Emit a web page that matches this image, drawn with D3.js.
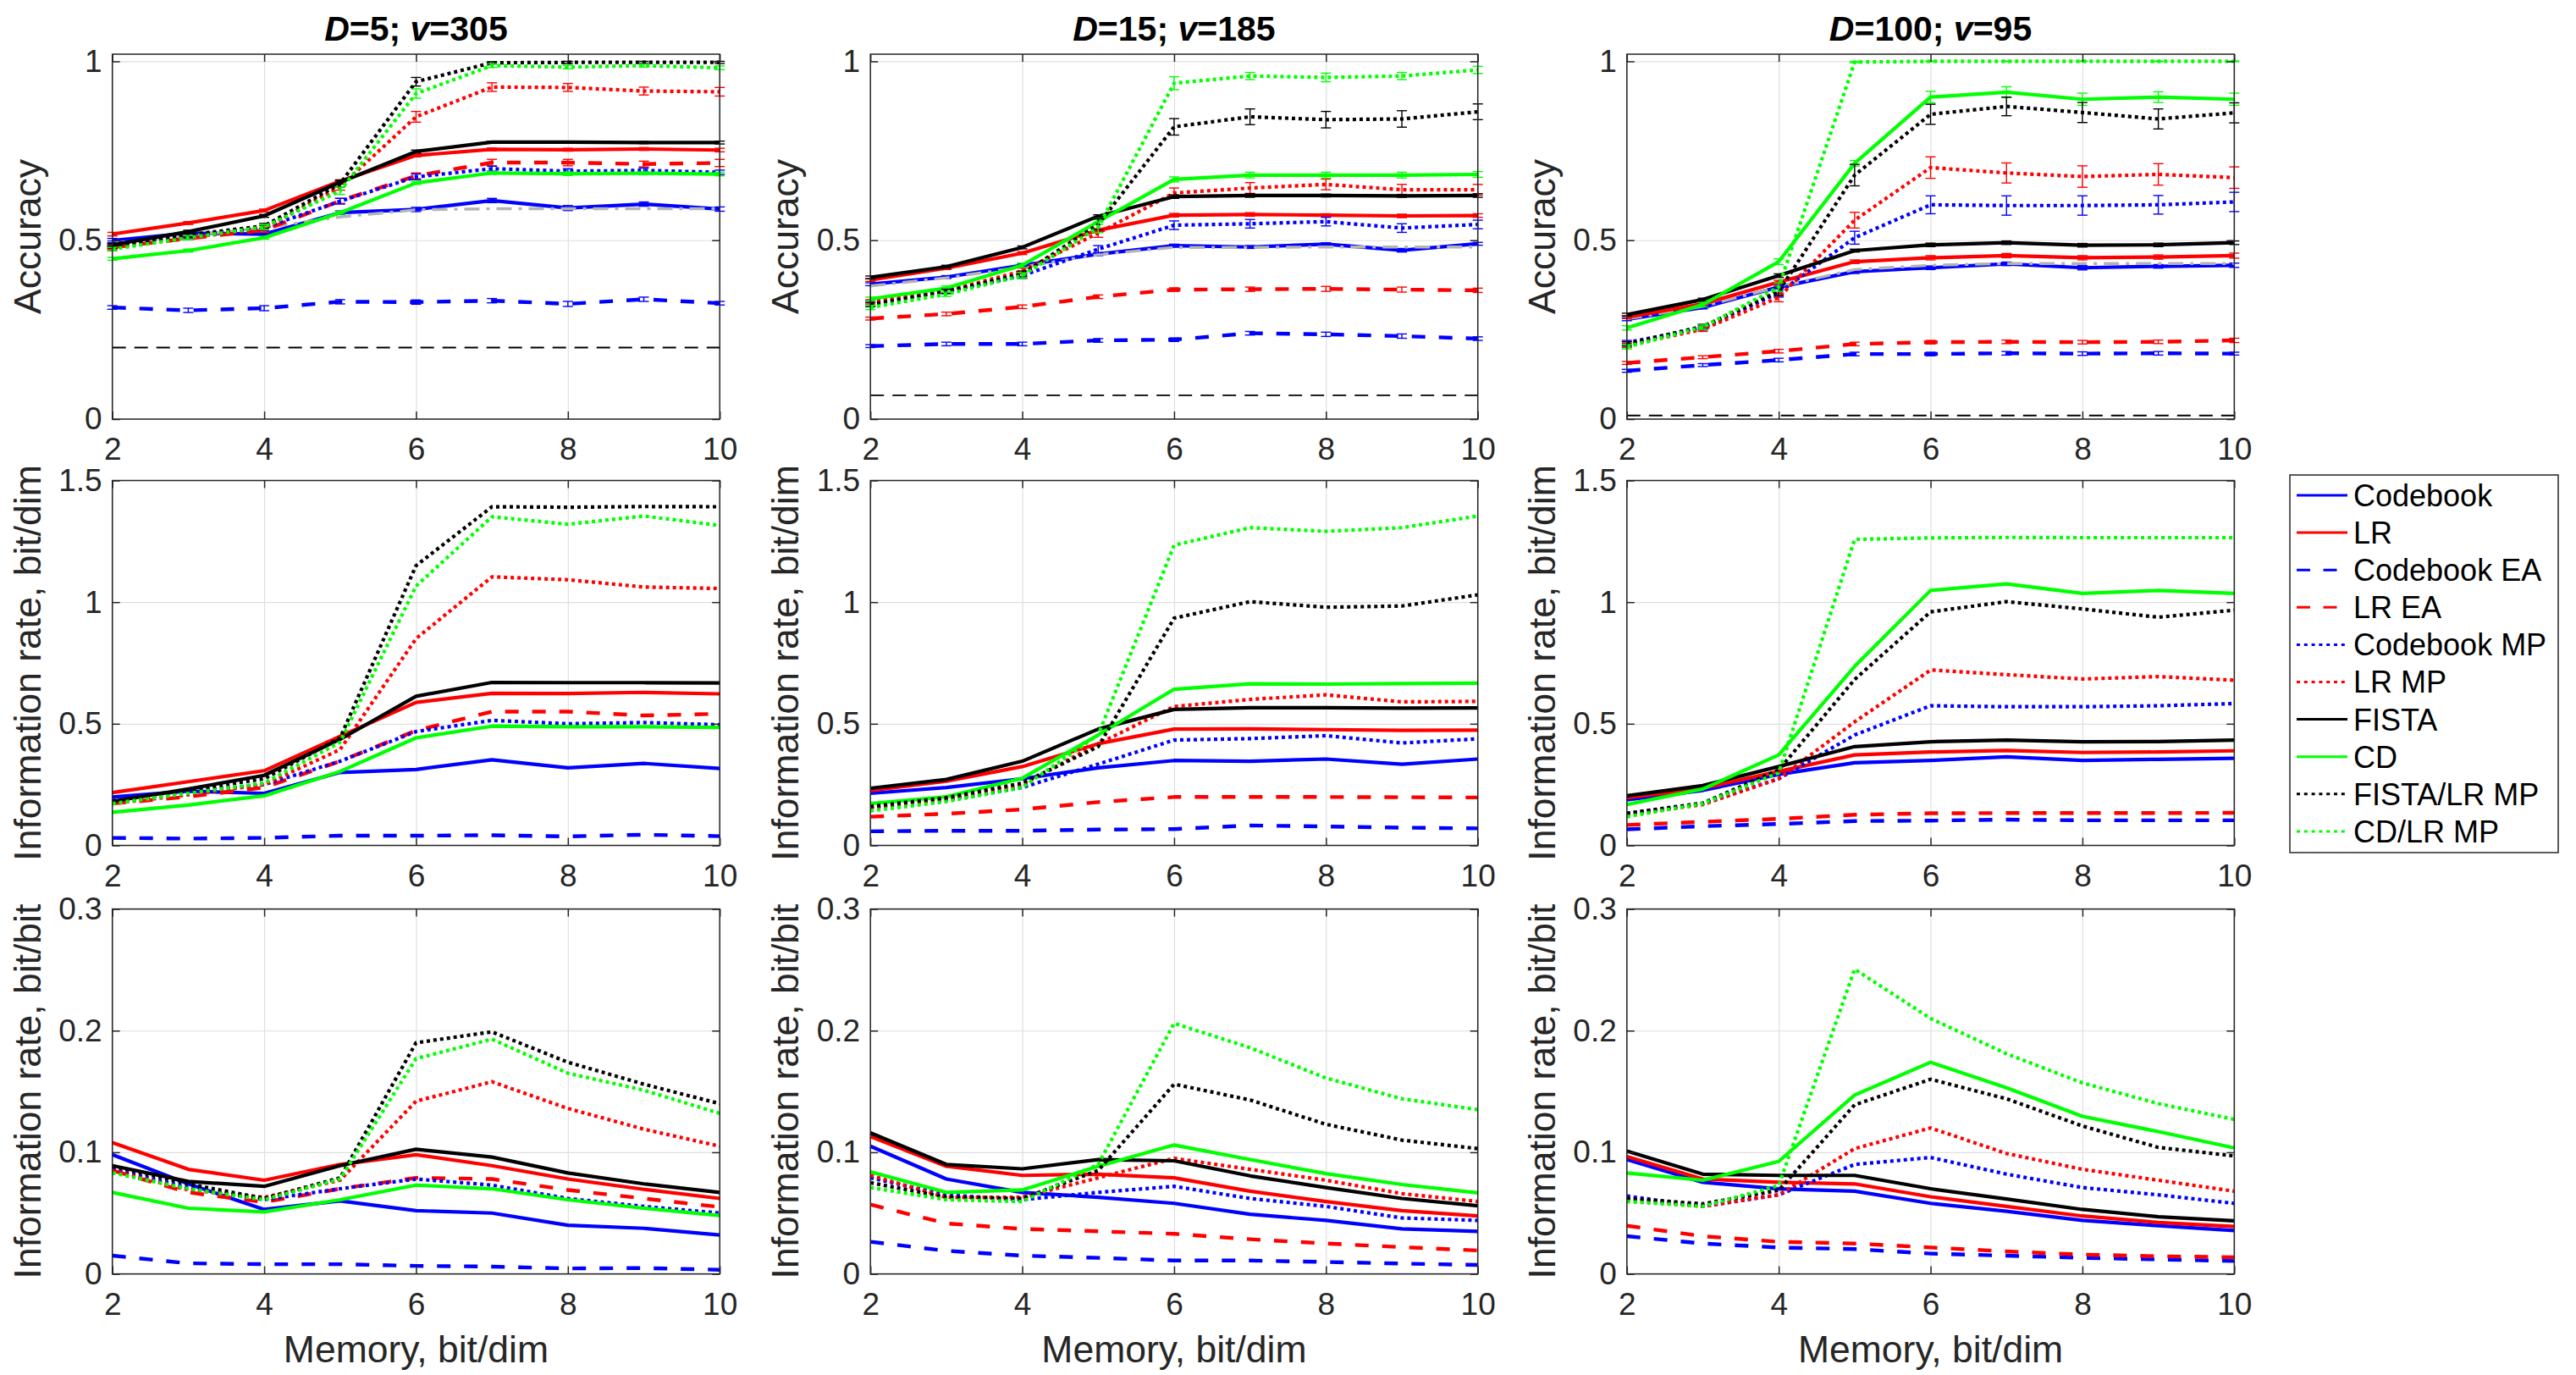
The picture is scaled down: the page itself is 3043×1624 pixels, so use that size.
<!DOCTYPE html>
<html>
<head>
<meta charset="utf-8">
<script src="https://cdn.jsdelivr.net/npm/d3@7"></script>
<style>
  body { margin: 0; background: #fff; }
  text { font-family: "Liberation Sans", Arial, Helvetica, sans-serif; }
</style>
</head>
<body>
<script>
// x values shared by every panel
const memory = [2, 3, 4, 5, 6, 7, 8, 9, 10];

const seriesNames = ["Codebook", "LR", "Codebook EA", "LR EA", "Codebook MP", "LR MP",
                     "FISTA", "CD", "FISTA/LR MP", "CD/LR MP"];
const seriesColors = ["#0000ff", "#ff0000", "#0000ff", "#ff0000", "#0000ff", "#ff0000",
                      "#000000", "#00ff00", "#000000", "#00ff00"];
const seriesStyle = ["solid", "solid", "dash", "dash", "dot", "dot",
                     "solid", "solid", "dot", "dot"];

const colTitles = [["D", "=5; ", "v", "=305"], ["D", "=15; ", "v", "=185"], ["D", "=100; ", "v", "=95"]];
const rowLabels = ["Accuracy", "Information rate, bit/dim", "Information rate, bit/bit"];
const rowMax = [1.02, 1.5, 0.3];
const rowTicks = [[0, 0.5, 1], [0, 0.5, 1, 1.5], [0, 0.1, 0.2, 0.3]];
const xTicks = [2, 4, 6, 8, 10];

// chance level (black dashed) and reference curve (grey dash-dot), accuracy row only
const chanceLevel = [0.2, 0.0667, 0.01];
const refD5 = [0.492, 0.512, 0.535, 0.565, 0.585, 0.588, 0.588, 0.588, 0.588];
const refD15 = [0.372, 0.395, 0.425, 0.460, 0.480, 0.480, 0.481, 0.481, 0.481];
const refD100 = [0.280, 0.315, 0.370, 0.418, 0.430, 0.435, 0.435, 0.435, 0.435];

// rows follow seriesNames order
const accD5 = [
  [0.499, 0.520, 0.517, 0.577, 0.586, 0.611, 0.590, 0.601, 0.587],
  [0.517, 0.548, 0.583, 0.665, 0.737, 0.754, 0.753, 0.755, 0.752],
  [0.312, 0.304, 0.310, 0.328, 0.327, 0.331, 0.322, 0.335, 0.324],
  [0.480, 0.505, 0.528, 0.610, 0.680, 0.717, 0.717, 0.713, 0.716],
  [0.490, 0.512, 0.535, 0.609, 0.677, 0.700, 0.693, 0.695, 0.690],
  [0.479, 0.507, 0.532, 0.650, 0.845, 0.928, 0.927, 0.917, 0.915],
  [0.487, 0.524, 0.568, 0.662, 0.748, 0.774, 0.774, 0.773, 0.773],
  [0.448, 0.471, 0.507, 0.577, 0.660, 0.688, 0.686, 0.687, 0.685],
  [0.483, 0.515, 0.540, 0.658, 0.943, 0.996, 0.997, 0.997, 0.997],
  [0.475, 0.507, 0.537, 0.638, 0.910, 0.988, 0.984, 0.988, 0.982]
];
const accD15 = [
  [0.377, 0.397, 0.430, 0.461, 0.485, 0.481, 0.489, 0.472, 0.490],
  [0.389, 0.422, 0.464, 0.528, 0.570, 0.572, 0.570, 0.568, 0.569],
  [0.204, 0.210, 0.210, 0.220, 0.222, 0.240, 0.237, 0.232, 0.225],
  [0.281, 0.294, 0.314, 0.342, 0.362, 0.363, 0.364, 0.362, 0.360],
  [0.324, 0.357, 0.401, 0.475, 0.542, 0.546, 0.552, 0.534, 0.544],
  [0.328, 0.358, 0.414, 0.520, 0.632, 0.646, 0.656, 0.641, 0.641],
  [0.396, 0.426, 0.480, 0.567, 0.622, 0.625, 0.625, 0.624, 0.625],
  [0.336, 0.366, 0.430, 0.552, 0.670, 0.682, 0.682, 0.682, 0.684],
  [0.320, 0.357, 0.406, 0.544, 0.817, 0.845, 0.837, 0.839, 0.859],
  [0.312, 0.349, 0.401, 0.536, 0.939, 0.959, 0.955, 0.959, 0.976]
];
const accD100 = [
  [0.279, 0.312, 0.369, 0.412, 0.423, 0.434, 0.423, 0.427, 0.430],
  [0.285, 0.322, 0.383, 0.440, 0.451, 0.457, 0.451, 0.453, 0.457],
  [0.135, 0.151, 0.165, 0.182, 0.182, 0.184, 0.183, 0.184, 0.183],
  [0.157, 0.173, 0.190, 0.210, 0.215, 0.216, 0.215, 0.216, 0.220],
  [0.214, 0.255, 0.353, 0.507, 0.599, 0.597, 0.597, 0.599, 0.607],
  [0.206, 0.251, 0.340, 0.556, 0.703, 0.688, 0.678, 0.684, 0.675],
  [0.292, 0.334, 0.401, 0.471, 0.487, 0.493, 0.486, 0.487, 0.493],
  [0.255, 0.320, 0.440, 0.715, 0.900, 0.914, 0.894, 0.900, 0.894],
  [0.210, 0.259, 0.357, 0.682, 0.852, 0.874, 0.857, 0.839, 0.856],
  [0.202, 0.257, 0.369, 0.998, 1.000, 1.000, 1.000, 1.000, 1.000]
];

// half-widths of the accuracy error bars
const errD5 = [
  [0.006, 0.004, 0.004, 0.005, 0.006, 0.006, 0.007, 0.006, 0.006],
  [0.005, 0.004, 0.004, 0.004, 0.004, 0.004, 0.004, 0.004, 0.005],
  [0.005, 0.006, 0.007, 0.006, 0.006, 0.006, 0.007, 0.006, 0.005],
  [0.004, 0.004, 0.006, 0.007, 0.008, 0.009, 0.009, 0.008, 0.010],
  [0.008, 0.006, 0.008, 0.008, 0.008, 0.007, 0.007, 0.007, 0.006],
  [0.006, 0.006, 0.009, 0.010, 0.015, 0.012, 0.011, 0.011, 0.012],
  [0.004, 0.004, 0.004, 0.005, 0.004, 0.003, 0.003, 0.003, 0.004],
  [0.004, 0.004, 0.004, 0.004, 0.004, 0.004, 0.005, 0.004, 0.005],
  [0.005, 0.006, 0.007, 0.010, 0.012, 0.003, 0.003, 0.003, 0.003],
  [0.005, 0.006, 0.007, 0.010, 0.013, 0.005, 0.005, 0.004, 0.005]
];
const errD15 = [
  [0.004, 0.004, 0.004, 0.004, 0.004, 0.004, 0.004, 0.005, 0.004],
  [0.004, 0.004, 0.004, 0.004, 0.005, 0.005, 0.004, 0.005, 0.005],
  [0.004, 0.005, 0.005, 0.005, 0.005, 0.005, 0.006, 0.006, 0.005],
  [0.004, 0.005, 0.005, 0.005, 0.005, 0.006, 0.007, 0.007, 0.006],
  [0.006, 0.006, 0.008, 0.010, 0.012, 0.012, 0.012, 0.012, 0.012],
  [0.006, 0.006, 0.008, 0.012, 0.014, 0.015, 0.015, 0.015, 0.015],
  [0.004, 0.004, 0.004, 0.004, 0.005, 0.005, 0.004, 0.004, 0.005],
  [0.005, 0.006, 0.006, 0.008, 0.007, 0.008, 0.008, 0.008, 0.008],
  [0.006, 0.006, 0.008, 0.015, 0.023, 0.022, 0.023, 0.023, 0.022],
  [0.006, 0.006, 0.008, 0.015, 0.018, 0.010, 0.012, 0.010, 0.010]
];
const errD100 = [
  [0.004, 0.004, 0.005, 0.005, 0.005, 0.005, 0.006, 0.005, 0.006],
  [0.004, 0.004, 0.005, 0.005, 0.006, 0.006, 0.006, 0.006, 0.007],
  [0.004, 0.004, 0.005, 0.005, 0.005, 0.005, 0.005, 0.005, 0.004],
  [0.004, 0.004, 0.005, 0.005, 0.005, 0.005, 0.005, 0.005, 0.006],
  [0.006, 0.006, 0.012, 0.018, 0.025, 0.027, 0.027, 0.026, 0.027],
  [0.006, 0.006, 0.012, 0.022, 0.030, 0.028, 0.030, 0.030, 0.030],
  [0.004, 0.004, 0.005, 0.004, 0.005, 0.005, 0.005, 0.005, 0.005],
  [0.006, 0.006, 0.008, 0.008, 0.016, 0.015, 0.017, 0.015, 0.017],
  [0.006, 0.006, 0.012, 0.030, 0.028, 0.026, 0.028, 0.028, 0.028],
  [0.006, 0.006, 0.012, 0.002, 0.001, 0.001, 0.001, 0.001, 0.001]
];

const rateDimD5 = [
  [0.199, 0.223, 0.214, 0.300, 0.312, 0.352, 0.319, 0.337, 0.316],
  [0.217, 0.262, 0.307, 0.448, 0.588, 0.625, 0.624, 0.629, 0.623],
  [0.031, 0.028, 0.031, 0.040, 0.040, 0.042, 0.037, 0.044, 0.038],
  [0.172, 0.200, 0.238, 0.346, 0.472, 0.550, 0.550, 0.534, 0.541],
  [0.184, 0.220, 0.250, 0.346, 0.468, 0.514, 0.500, 0.505, 0.496],
  [0.172, 0.208, 0.250, 0.394, 0.850, 1.104, 1.092, 1.062, 1.056],
  [0.181, 0.232, 0.288, 0.436, 0.613, 0.670, 0.669, 0.669, 0.668],
  [0.136, 0.166, 0.204, 0.304, 0.442, 0.490, 0.488, 0.488, 0.485],
  [0.178, 0.226, 0.274, 0.442, 1.150, 1.392, 1.390, 1.393, 1.392],
  [0.172, 0.214, 0.256, 0.424, 1.066, 1.351, 1.320, 1.354, 1.315]
];
const rateDimD15 = [
  [0.214, 0.238, 0.274, 0.319, 0.349, 0.346, 0.355, 0.334, 0.355],
  [0.226, 0.264, 0.324, 0.418, 0.478, 0.479, 0.476, 0.473, 0.474],
  [0.058, 0.060, 0.060, 0.065, 0.067, 0.082, 0.078, 0.073, 0.070],
  [0.118, 0.130, 0.148, 0.178, 0.199, 0.199, 0.199, 0.198, 0.197],
  [0.156, 0.187, 0.238, 0.334, 0.433, 0.439, 0.451, 0.421, 0.438],
  [0.156, 0.192, 0.250, 0.418, 0.571, 0.600, 0.619, 0.590, 0.592],
  [0.235, 0.271, 0.346, 0.478, 0.559, 0.566, 0.566, 0.564, 0.565],
  [0.172, 0.200, 0.276, 0.454, 0.642, 0.664, 0.663, 0.665, 0.667],
  [0.160, 0.196, 0.256, 0.406, 0.934, 1.002, 0.979, 0.984, 1.030],
  [0.142, 0.180, 0.238, 0.454, 1.234, 1.306, 1.291, 1.306, 1.354]
];
const rateDimD100 = [
  [0.187, 0.226, 0.292, 0.340, 0.349, 0.364, 0.349, 0.354, 0.358],
  [0.196, 0.235, 0.304, 0.372, 0.384, 0.390, 0.382, 0.384, 0.389],
  [0.066, 0.079, 0.088, 0.100, 0.102, 0.106, 0.103, 0.103, 0.103],
  [0.084, 0.097, 0.109, 0.126, 0.132, 0.133, 0.133, 0.133, 0.134],
  [0.132, 0.172, 0.274, 0.454, 0.574, 0.570, 0.570, 0.574, 0.583],
  [0.126, 0.168, 0.274, 0.508, 0.721, 0.702, 0.684, 0.694, 0.679],
  [0.204, 0.246, 0.324, 0.406, 0.426, 0.433, 0.426, 0.427, 0.433],
  [0.168, 0.232, 0.372, 0.736, 1.048, 1.075, 1.036, 1.048, 1.036],
  [0.132, 0.174, 0.310, 0.682, 0.960, 1.002, 0.972, 0.938, 0.967],
  [0.118, 0.172, 0.298, 1.258, 1.264, 1.266, 1.265, 1.265, 1.265]
];

const rateBitD5 = [
  [0.098, 0.074, 0.053, 0.060, 0.052, 0.050, 0.040, 0.0375, 0.032],
  [0.108, 0.086, 0.077, 0.090, 0.098, 0.089, 0.078, 0.0695, 0.062],
  [0.015, 0.0087, 0.008, 0.008, 0.0066, 0.006, 0.0045, 0.0048, 0.0034],
  [0.085, 0.067, 0.059, 0.070, 0.079, 0.078, 0.069, 0.062, 0.055],
  [0.086, 0.071, 0.061, 0.070, 0.078, 0.073, 0.062, 0.0555, 0.050],
  [0.085, 0.069, 0.063, 0.077, 0.142, 0.158, 0.136, 0.119, 0.105],
  [0.089, 0.076, 0.072, 0.089, 0.1025, 0.096, 0.083, 0.074, 0.067],
  [0.067, 0.054, 0.051, 0.061, 0.073, 0.070, 0.061, 0.054, 0.048],
  [0.0885, 0.074, 0.062, 0.079, 0.190, 0.199, 0.174, 0.156, 0.140],
  [0.083, 0.070, 0.061, 0.078, 0.177, 0.193, 0.165, 0.151, 0.132]
];
const rateBitD15 = [
  [0.105, 0.078, 0.067, 0.063, 0.058, 0.049, 0.044, 0.037, 0.035],
  [0.113, 0.0885, 0.081, 0.082, 0.079, 0.068, 0.0595, 0.052, 0.0476],
  [0.0264, 0.019, 0.015, 0.0132, 0.011, 0.011, 0.0098, 0.0085, 0.0074],
  [0.057, 0.0415, 0.037, 0.035, 0.033, 0.0285, 0.025, 0.022, 0.0193],
  [0.079, 0.065, 0.061, 0.067, 0.072, 0.062, 0.0555, 0.046, 0.044],
  [0.081, 0.063, 0.063, 0.079, 0.095, 0.086, 0.077, 0.066, 0.0595],
  [0.116, 0.090, 0.0864, 0.094, 0.093, 0.0806, 0.071, 0.062, 0.056],
  [0.084, 0.067, 0.069, 0.0885, 0.106, 0.094, 0.0825, 0.0735, 0.0666],
  [0.075, 0.063, 0.062, 0.085, 0.156, 0.143, 0.123, 0.110, 0.103],
  [0.071, 0.061, 0.0595, 0.090, 0.206, 0.186, 0.161, 0.144, 0.135]
];
const rateBitD100 = [
  [0.094, 0.0753, 0.070, 0.068, 0.058, 0.0515, 0.044, 0.0396, 0.0357],
  [0.0965, 0.078, 0.0753, 0.074, 0.0634, 0.0555, 0.0476, 0.0423, 0.039],
  [0.031, 0.025, 0.0217, 0.0204, 0.0167, 0.015, 0.0132, 0.0119, 0.0106],
  [0.0396, 0.031, 0.0264, 0.025, 0.0217, 0.0185, 0.0159, 0.0145, 0.0137],
  [0.064, 0.0555, 0.065, 0.090, 0.0957, 0.082, 0.071, 0.065, 0.058],
  [0.061, 0.0555, 0.065, 0.103, 0.120, 0.099, 0.086, 0.077, 0.068],
  [0.101, 0.082, 0.081, 0.081, 0.070, 0.0616, 0.053, 0.047, 0.0436],
  [0.083, 0.077, 0.0925, 0.147, 0.174, 0.153, 0.1295, 0.117, 0.1036],
  [0.062, 0.0576, 0.0687, 0.139, 0.160, 0.144, 0.1216, 0.104, 0.097],
  [0.0595, 0.0555, 0.0727, 0.2505, 0.210, 0.181, 0.157, 0.140, 0.127]
];

const panelData = [
  [accD5, accD15, accD100],
  [rateDimD5, rateDimD15, rateDimD100],
  [rateBitD5, rateBitD15, rateBitD100]
];
const accErr = [errD5, errD15, errD100];
const refCurves = [refD5, refD15, refD100];

// layout
const W = 3043, H = 1624;
const colLeft = [132.7, 1028.2, 1921.8];
const rowTop = [64, 567.5, 1073.6];
const pw = 717.5, ph = 431;
const tickFont = 37, labelFont = 44.5;
const axisColor = "#262626";
const gridColor = "#dfdfdf";
const dashFor = { solid: null, dash: "16,16", dot: "4,4" };
const widthFor = { solid: 4.2, dash: 4.4, dot: 4.2 };

const svg = d3.select("body").append("svg")
  .attr("width", W)
  .attr("height", H);

const x = d3.scaleLinear().domain([2, 10]).range([0, pw]);

for (let r = 0; r < 3; r++) {
  for (let c = 0; c < 3; c++) {
    const g = svg.append("g")
      .attr("transform", "translate(" + colLeft[c] + "," + rowTop[r] + ")");
    const y = d3.scaleLinear().domain([0, rowMax[r]]).range([ph, 0]);

    // grid
    g.append("g")
      .attr("class", "grid")
      .call(d3.axisBottom(x).tickValues(xTicks).tickSize(ph).tickFormat(""))
      .call(s => s.select(".domain").remove())
      .call(s => s.selectAll("line").attr("stroke", gridColor).attr("stroke-width", 1.2));
    g.append("g")
      .attr("class", "grid")
      .call(d3.axisLeft(y).tickValues(rowTicks[r]).tickSize(-pw).tickFormat(""))
      .call(s => s.select(".domain").remove())
      .call(s => s.selectAll("line").attr("stroke", gridColor).attr("stroke-width", 1.2));

    // chance level + reference curve, accuracy only
    const line = d3.line().x((d, i) => x(memory[i])).y(d => y(d));
    if (r === 0) {
      g.append("line")
        .attr("x1", x(2)).attr("x2", x(10))
        .attr("y1", y(chanceLevel[c])).attr("y2", y(chanceLevel[c]))
        .attr("stroke", "#000").attr("stroke-width", 1.8)
        .attr("stroke-dasharray", "16,10");
    }

    const data = panelData[r][c];
    data.forEach(function(vals, k) {
      g.append("path")
        .datum(vals)
        .attr("d", line)
        .attr("fill", "none")
        .attr("stroke", seriesColors[k])
        .attr("stroke-width", widthFor[seriesStyle[k]])
        .attr("stroke-dasharray", dashFor[seriesStyle[k]])
        .attr("stroke-linejoin", "round");

      if (r === 0) {
        const errs = accErr[c][k];
        const eb = g.append("g")
          .attr("stroke", seriesColors[k])
          .attr("stroke-width", 1.4);
        vals.forEach(function(v, i) {
          const cx = x(memory[i]);
          const y0 = y(v - errs[i]), y1 = y(v + errs[i]);
          eb.append("line").attr("x1", cx).attr("x2", cx).attr("y1", y0).attr("y2", y1);
          eb.append("line").attr("x1", cx - 6).attr("x2", cx + 6).attr("y1", y0).attr("y2", y0);
          eb.append("line").attr("x1", cx - 6).attr("x2", cx + 6).attr("y1", y1).attr("y2", y1);
        });
      }
      if (r === 0 && k === 0) {
        g.append("path")
          .datum(refCurves[c])
          .attr("d", line)
          .attr("fill", "none")
          .attr("stroke", "#b3b3b3")
          .attr("stroke-width", 3.4)
          .attr("stroke-dasharray", "18,8,4,8");
      }
    });

    // axes, ticks inside on all four sides
    g.append("g")
      .attr("transform", "translate(0," + ph + ")")
      .call(d3.axisBottom(x).tickValues(xTicks).tickSizeInner(-9).tickSizeOuter(0).tickPadding(22)
        .tickFormat(d => String(d)))
      .call(s => s.select(".domain").remove());
    g.append("g")
      .call(d3.axisTop(x).tickValues(xTicks).tickSizeInner(-9).tickSizeOuter(0).tickFormat(""))
      .call(s => s.select(".domain").remove());
    g.append("g")
      .call(d3.axisLeft(y).tickValues(rowTicks[r]).tickSizeInner(-9).tickSizeOuter(0).tickPadding(12)
        .tickFormat(d => String(d)))
      .call(s => s.select(".domain").remove());
    g.append("g")
      .attr("transform", "translate(" + pw + ",0)")
      .call(d3.axisRight(y).tickValues(rowTicks[r]).tickSizeInner(-9).tickSizeOuter(0).tickFormat(""))
      .call(s => s.select(".domain").remove());

    g.selectAll(".tick line").filter(function() {
      return !this.parentNode.parentNode.classList.contains("grid");
    }).attr("stroke", axisColor).attr("stroke-width", 1.5);
    g.selectAll(".tick text")
      .attr("font-size", tickFont)
      .attr("font-family", "Liberation Sans, Arial, sans-serif")
      .attr("fill", axisColor);

    g.append("rect")
      .attr("width", pw).attr("height", ph)
      .attr("fill", "none")
      .attr("stroke", axisColor)
      .attr("stroke-width", 1.5);

    // y label
    g.append("text")
      .attr("transform", "translate(-85," + (ph / 2) + ") rotate(-90)")
      .attr("text-anchor", "middle")
      .attr("font-size", labelFont)
      .attr("fill", axisColor)
      .text(rowLabels[r]);

    if (r === 2) {
      g.append("text")
        .attr("x", pw / 2)
        .attr("y", ph + 104)
        .attr("text-anchor", "middle")
        .attr("font-size", labelFont)
        .attr("fill", axisColor)
        .text("Memory, bit/dim");
    }
    if (r === 0) {
      const t = g.append("text")
        .attr("x", pw / 2)
        .attr("y", -16)
        .attr("text-anchor", "middle")
        .attr("font-size", 41)
        .attr("font-weight", "bold")
        .attr("fill", "#000");
      colTitles[c].forEach(function(part, i) {
        t.append("tspan")
          .attr("font-style", i % 2 === 0 ? "italic" : "normal")
          .text(part);
      });
    }
  }
}

// legend
const legend = svg.append("g");
legend.append("rect")
  .attr("x", 2705).attr("y", 561)
  .attr("width", 317).attr("height", 446)
  .attr("fill", "#fff")
  .attr("stroke", axisColor)
  .attr("stroke-width", 1.5);
const legendDash = { solid: null, dash: "16,15.5", dot: "4,4.8" };
seriesNames.forEach(function(name, k) {
  const ly = 585 + k * 44.1;
  legend.append("line")
    .attr("x1", 2713).attr("x2", 2773)
    .attr("y1", ly).attr("y2", ly)
    .attr("stroke", seriesColors[k])
    .attr("stroke-width", 3)
    .attr("stroke-dasharray", legendDash[seriesStyle[k]]);
  legend.append("text")
    .attr("x", 2780)
    .attr("y", ly)
    .attr("dy", "0.36em")
    .attr("font-size", 36)
    .attr("fill", "#000")
    .text(name);
});
</script>
</body>
</html>
